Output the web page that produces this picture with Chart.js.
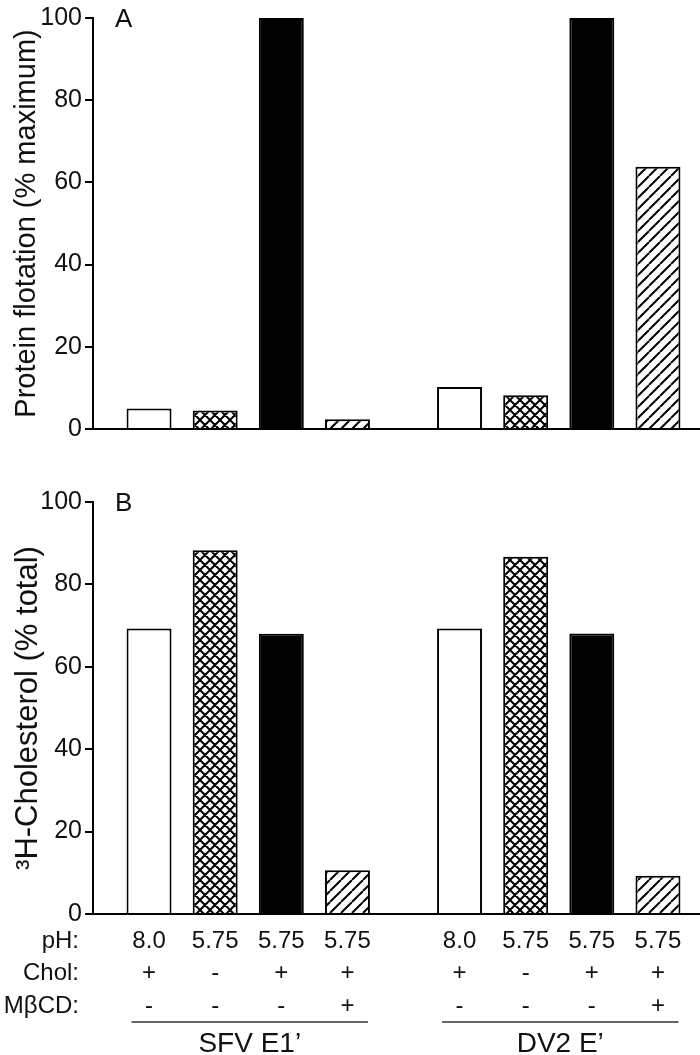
<!DOCTYPE html>
<html lang="en">
  <head>
    <title>Protein flotation and cholesterol</title>
    <meta charset="utf-8" />
    <style>
      html, body { margin: 0; padding: 0; background: #fff; overflow: hidden; }
      .panel { position: absolute; left: 0; width: 714px; }
      #panelA { top: 0; height: 447px; }
      #panelB { top: 440px; height: 615px; }
    </style>
  </head>
  <body>
    <div class="panel" id="panelA"><canvas id="chartA"></canvas></div>
    <div class="panel" id="panelB"><canvas id="chartB"></canvas></div>

    <script src="https://cdn.jsdelivr.net/npm/chart.js"></script>
    <script>
      // constructs (x categories) and conditions (one dataset each)
      const groups = ["SFV E1\u2019", "DV2 E\u2019"];
      const phValues = ["8.0", "5.75", "5.75", "5.75"];
      const cholValues = ["+", "-", "+", "+"];
      const mbcdValues = ["-", "-", "-", "+"];
      const rowLabels = ["pH:", "Chol:", "M\u03b2CD:"];

      // panel A: protein flotation (% maximum), per condition
      const flotationSfv = [5.0, 4.5, 100, 2.4];
      const flotationDv2 = [10.2, 8.2, 100, 63.8];
      // panel B: 3H-cholesterol (% total), per condition
      const cholesterolSfv = [69.3, 88.3, 68.0, 10.6];
      const cholesterolDv2 = [69.3, 86.7, 68.1, 9.3];

      const yTicks = [0, 20, 40, 60, 80, 100];

      const FONT = "'Liberation Sans', Arial, sans-serif";
      const INK = "#111";

      function makeTile(size, drawLines) {
        const c = document.createElement("canvas");
        c.width = c.height = size;
        const g = c.getContext("2d");
        g.fillStyle = "#fff";
        g.fillRect(0, 0, size, size);
        g.strokeStyle = "#000";
        g.lineWidth = 2;
        g.beginPath();
        drawLines(g, size);
        g.stroke();
        return g.createPattern(c, "repeat");
      }

      const crossHatch = makeTile(10, (g, s) => {
        for (const k of [-s, 0, s]) {
          g.moveTo(k, 0); g.lineTo(k + s, s);
          g.moveTo(k, s); g.lineTo(k + s, 0);
        }
      });
      const diagHatch = makeTile(11, (g, s) => {
        for (const k of [-s, 0, s]) {
          g.moveTo(k, s); g.lineTo(k + s, 0);
        }
      });

      const fills = ["#fff", crossHatch, "#000", diagHatch];

      function buildDatasets(sfv, dv2) {
        return fills.map((fill, i) => ({
          label: "cond" + i,
          data: [sfv[i], dv2[i]],
          backgroundColor: fill,
          borderColor: "#000",
          borderWidth: 2,
          categoryPercentage: 0.852,
          barPercentage: 0.68,
        }));
      }

      // panel letter in the top-left corner of the plot
      const panelLetter = {
        id: "panelLetter",
        afterDraw(chart, args, opts) {
          const { ctx, chartArea } = chart;
          ctx.save();
          ctx.fillStyle = INK;
          ctx.font = "26px " + FONT;
          ctx.textBaseline = "alphabetic";
          ctx.fillText(opts.text, chartArea.left + 22, chartArea.top + 9);
          ctx.restore();
        },
      };

      // condition table under panel B
      const conditionRows = {
        id: "conditionRows",
        afterDraw(chart) {
          const { ctx, chartArea } = chart;
          const rows = [phValues, cholValues, mbcdValues];
          const rowY = [27, 59, 92].map((d) => chartArea.bottom + d);
          ctx.save();
          ctx.fillStyle = INK;
          ctx.font = "24px " + FONT;
          ctx.textBaseline = "middle";
          ctx.textAlign = "right";
          rowLabels.forEach((lab, r) => ctx.fillText(lab, 79, rowY[r]));
          ctx.textAlign = "center";
          fills.forEach((f, i) => {
            chart.getDatasetMeta(i).data.forEach((bar) => {
              rows.forEach((vals, r) => ctx.fillText(vals[i], bar.x, rowY[r]));
            });
          });
          // underline and construct name for each group
          const first = chart.getDatasetMeta(0).data;
          const last = chart.getDatasetMeta(fills.length - 1).data;
          groups.forEach((name, j) => {
            const x0 = first[j].x - first[j].width / 2 + 5;
            const x1 = last[j].x + last[j].width / 2 - 2;
            ctx.strokeStyle = "#333";
            ctx.lineWidth = 1.5;
            ctx.beginPath();
            ctx.moveTo(x0, chartArea.bottom + 108);
            ctx.lineTo(x1, chartArea.bottom + 108);
            ctx.stroke();
            ctx.font = "28px " + FONT;
            ctx.fillText(name, (x0 + x1) / 2, chartArea.bottom + 130);
          });
          ctx.restore();
        },
      };

      function makeOptions(title, titleSize, letter, padding) {
        return {
          responsive: true,
          maintainAspectRatio: false,
          animation: false,
          layout: { padding: padding },
          plugins: {
            legend: { display: false },
            tooltip: { enabled: false },
            panelLetter: { text: letter },
          },
          scales: {
            x: {
              grid: { display: false },
              ticks: { display: false },
              border: { display: true, color: "#000", width: 2 },
            },
            y: {
              min: 0,
              max: 100,
              afterBuildTicks: (scale) => {
                scale.ticks = yTicks.map((v) => ({ value: v }));
              },
              afterFit: (scale) => {
                scale.width = 93;
              },
              ticks: {
                color: INK,
                font: { family: FONT, size: 25 },
                padding: 3,
              },
              grid: {
                drawOnChartArea: false,
                drawTicks: true,
                tickLength: 8,
                color: "#000",
                lineWidth: 2,
              },
              border: { color: "#000", width: 2 },
              title: {
                display: true,
                text: title,
                color: INK,
                font: { family: FONT, size: titleSize },
                padding: { top: 10, bottom: 0 },
              },
            },
          },
        };
      }

      document.addEventListener("DOMContentLoaded", () => {
        new Chart(document.querySelector("#chartA"), {
          type: "bar",
          data: { labels: groups, datasets: buildDatasets(flotationSfv, flotationDv2) },
          options: makeOptions("Protein flotation (% maximum)", 29, "A", {
            top: 15, bottom: 4, left: 0, right: 0,
          }),
          plugins: [panelLetter],
        });

        new Chart(document.querySelector("#chartB"), {
          type: "bar",
          data: { labels: groups, datasets: buildDatasets(cholesterolSfv, cholesterolDv2) },
          options: makeOptions("\u00b3H-Cholesterol (% total)", 31, "B", {
            top: 62, bottom: 133, left: 0, right: 0,
          }),
          plugins: [panelLetter, conditionRows],
        });
      });
    </script>
  </body>
</html>
